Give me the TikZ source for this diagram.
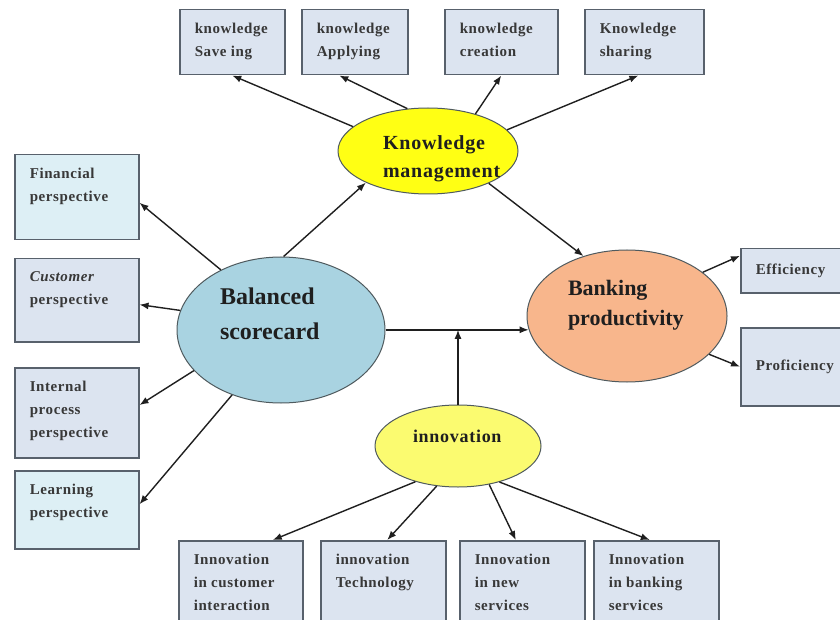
\documentclass[tikz,border=0pt]{standalone}
\usepackage{fontspec}
\setmainfont{Liberation Serif}
\newfontfamily\spaced[LetterSpace=4]{Liberation Serif}
\usetikzlibrary{arrows.meta, shapes.geometric}
\definecolor{boxfill}{HTML}{DCE4F0}
\definecolor{boxcyan}{HTML}{DDEFF5}
\definecolor{boxline}{HTML}{58616C}
\definecolor{boxtext}{HTML}{383838}
\definecolor{ovalline}{HTML}{4F5A5E}
\definecolor{bsfill}{HTML}{A9D3E1}
\definecolor{kmfill}{HTML}{FFFF14}
\definecolor{innfill}{HTML}{FBFB70}
\definecolor{bpfill}{HTML}{F8B68C}
\newcommand{\boxtxt}[3]{\parbox[t][#2pt][t]{#1pt}{\raggedright #3}}
\newcommand{\ovaltxt}[3]{\parbox[c][#2pt][t]{#1pt}{\raggedright #3}}

\begin{document}
\begin{tikzpicture}[x=1pt, y=-1pt,
    box/.style={rectangle, draw=boxline, fill=boxfill, line width=1.5pt, anchor=north west,
        inner xsep=15pt, inner ysep=13pt, text=boxtext,
        font=\spaced\bfseries\fontsize{15}{23}\selectfont},
    rbox/.style={box, inner ysep=0pt, text width=80pt, align=left},
    oval/.style={ellipse, draw=ovalline, line width=1pt, inner sep=0pt, text=black!88},
    arr/.style={draw=black!88, line width=1.4pt, -{Latex[length=9pt, width=7pt]}},
]
\path[fill=white] (0,0) rectangle (840,620);
\useasboundingbox (0,0) rectangle (840,620);

% ---------------- the four ovals
\node[oval, fill=bsfill, minimum width=208pt, minimum height=146pt,
    font=\bfseries\fontsize{24}{35}\selectfont] (bs) at (281,330)
    {\ovaltxt{122}{84}{Balanced\\scorecard}};
\node[oval, fill=kmfill, minimum width=180pt, minimum height=86pt,
    font=\spaced\bfseries\fontsize{20}{28}\selectfont] (km) at (428,151)
    {\ovaltxt{90}{30}{\leavevmode\rlap{Knowledge}\\\leavevmode\rlap{management}}};
\node[oval, fill=bpfill, minimum width=200pt, minimum height=132pt,
    font=\bfseries\fontsize{22}{30}\selectfont] (bp) at (627,316)
    {\ovaltxt{118}{72}{Banking\\productivity}};
\node[oval, fill=innfill, minimum width=166pt, minimum height=82pt,
    font=\spaced\bfseries\fontsize{18}{24}\selectfont] (inn) at (458,446)
    {\ovaltxt{90}{31}{innovation}};

% ---------------- knowledge boxes, top row
\node[box] (sav) at (179,9) {\boxtxt{75}{39}{knowledge\\Save ing}};
\node[box] (app) at (301,9) {\boxtxt{76}{39}{knowledge\\Applying}};
\node[box] (cre) at (444,9) {\boxtxt{83}{39}{knowledge\\creation}};
\node[box] (shr) at (584,9) {\boxtxt{89}{39}{Knowledge\\sharing}};

% ---------------- perspectives, left column
\node[box, fill=boxcyan] (fin) at (14,154) {\boxtxt{94}{59}{Financial\\perspective}};
\node[box] (cus) at (14,258) {\boxtxt{94}{57}{{\itshape Customer}\\perspective}};
\node[box] (int) at (14,367) {\boxtxt{94}{64}{Internal\\process\\perspective}};
\node[box, fill=boxcyan] (lrn) at (14,470) {\boxtxt{94}{52}{Learning\\perspective}};

% ---------------- outcomes, right
\node[rbox, minimum height=44pt] (eff) at (740,248) {Efficiency};
\node[rbox, minimum height=78pt] (pro) at (740,327) {Proficiency};

% ---------------- innovation boxes, bottom row
\node[box] (ic) at (178,540) {\boxtxt{94}{64}{Innovation\\in customer\\interaction}};
\node[box] (tec) at (320,540) {\boxtxt{95}{64}{innovation\\Technology}};
\node[box] (nsv) at (459,540) {\boxtxt{95}{64}{Innovation\\in new\\services}};
\node[box] (bks) at (593,540) {\boxtxt{95}{64}{Innovation\\in banking\\services}};

% ---------------- connectors
\draw[arr] (bs.135) -- (fin.-5);
\draw[arr] (bs.169) -- (cus.-4);
\draw[arr] (bs.205) -- (int.7);
\draw[arr] (bs.233) -- (lrn.5);
\draw[arr] (bs.88) -- (km.207);

\draw[arr] (km.162) -- (sav.south);
\draw[arr] (km.116) -- (app.-115);
\draw[arr] (km.38) -- (cre.south);
\draw[arr] (km.15) -- (shr.-100);
\draw[arr] (km.-28) -- (bp.126);

% the main path, with innovation coming in from below
\coordinate (hj) at (bp.188 -| inn.north);
\draw[arr] (bp.188 -| bs.east) -- (bp.188);
\draw[arr] (inn.north) -- (hj);

\draw[arr] (bp.30) -- (eff.165);
\draw[arr] (bp.-25) -- (pro.west);

\draw[arr] (inn.220) -- (ic.55);
\draw[arr] (inn.242) -- (tec.85);
\draw[arr] (inn.309) -- (nsv.98);
\draw[arr] (inn.-41) -- (bks.98);
\end{tikzpicture}
\end{document}
